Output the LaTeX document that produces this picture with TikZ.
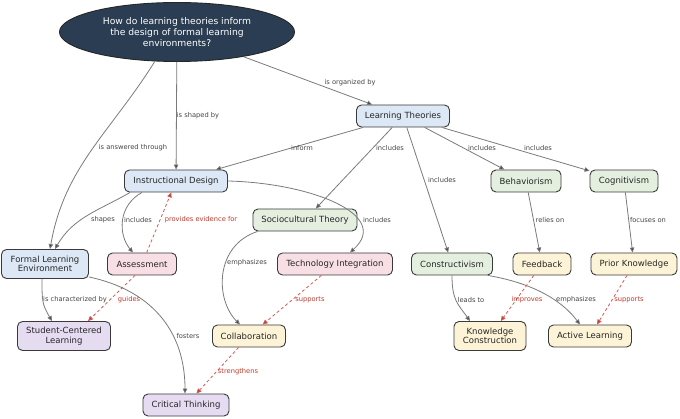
\documentclass[tikz,border=0pt]{standalone}
\usepackage{fontspec}
\setmainfont{DejaVu Sans}
\usetikzlibrary{arrows.meta,shapes.geometric}
\definecolor{cblue}{HTML}{DCE8F5}
\definecolor{cgreen}{HTML}{E4EFE0}
\definecolor{cpink}{HTML}{F7DFE5}
\definecolor{cyellow}{HTML}{FDF3D6}
\definecolor{cpurple}{HTML}{E6DCF1}
\definecolor{qfill}{HTML}{2A3D52}
\definecolor{bordc}{HTML}{3A3A3A}
\definecolor{edgec}{HTML}{7A7A7A}
\definecolor{lblc}{HTML}{444444}
\definecolor{redc}{HTML}{D45A55}
\definecolor{redlc}{HTML}{C0392B}
\begin{document}
\begin{tikzpicture}[x=1pt,y=1pt,
  box/.style={rectangle, rounded corners=5pt, draw=bordc, line width=0.9pt, minimum height=22pt, inner xsep=3pt, inner ysep=2pt, font=\fontsize{8.5}{9.5}\selectfont, text=black!85, align=center},
  qnode/.style={ellipse, fill=qfill, draw=black!85, line width=0.9pt, minimum width=235pt, minimum height=59pt, inner sep=0pt, text=white, font=\fontsize{9.2}{11}\selectfont, align=center},
  edge/.style={draw=edgec, line width=0.8pt, -{Triangle[length=5pt,width=4.5pt,fill=black!75]}},
  dedge/.style={draw=redc, line width=0.8pt, dash pattern=on 3pt off 2.5pt, -{Triangle[length=5pt,width=4.5pt,fill=redlc]}},
  lbl/.style={font=\fontsize{6.7}{8}\selectfont, text=lblc, inner sep=0.5pt},
  rlbl/.style={lbl, text=redlc},
]
\useasboundingbox (0,0) rectangle (680,-419);

\node[qnode] (q) at (177,-32) {How do learning theories inform\\the design of formal learning\\environments?};
\node[box, fill=cblue, minimum width=93pt] (lt) at (403,-116) {Learning Theories};
\node[box, fill=cblue, minimum width=103pt] (id) at (176,-181) {Instructional Design};
\node[box, fill=cgreen, minimum width=70pt] (beh) at (526,-181) {Behaviorism};
\node[box, fill=cgreen, minimum width=68pt] (cog) at (624,-181) {Cognitivism};
\node[box, fill=cgreen, minimum width=104pt] (sct) at (305,-220) {Sociocultural Theory};
\node[box, fill=cblue, minimum width=87pt, minimum height=29pt] (fle) at (45,-264) {Formal Learning\\Environment};
\node[box, fill=cpink, minimum width=69pt] (as) at (142,-264) {Assessment};
\node[box, fill=cpink, minimum width=115pt] (ti) at (335,-264) {Technology Integration};
\node[box, fill=cgreen, minimum width=81pt] (con) at (452,-264) {Constructivism};
\node[box, fill=cyellow, minimum width=58pt] (fb) at (542,-264) {Feedback};
\node[box, fill=cyellow, minimum width=86pt] (pk) at (634,-264) {Prior Knowledge};
\node[box, fill=cpurple, minimum width=93pt, minimum height=29pt] (scl) at (64,-336) {Student-Centered\\Learning};
\node[box, fill=cyellow, minimum width=73pt] (col) at (249,-336) {Collaboration};
\node[box, fill=cyellow, minimum width=72pt, minimum height=29pt] (kc) at (490,-336) {Knowledge\\Construction};
\node[box, fill=cyellow, minimum width=83pt] (al) at (590,-336) {Active Learning};
\node[box, fill=cpurple, minimum width=86pt] (ct) at (186,-405) {Critical Thinking};

% connectors
\draw[edge] (q) -- (lt);
\draw[edge] (q) -- (id);
\draw[edge] (q.233) to[out=238,in=80] ([xshift=5pt]fle.north);
\draw[edge] (lt) -- (id);
\draw[edge] (lt) -- (sct);
\draw[edge] (lt) -- (con);
\draw[edge] (lt) -- (beh);
\draw[edge] (lt) -- (cog);
\draw[edge] ([xshift=6pt]id.south west) to[out=210,in=60] ([xshift=10pt]fle.north);
\draw[edge] ([xshift=-34pt]id.south) .. controls +(-24,-13) and +(-15,18) .. ([xshift=-9pt]as.north);
\draw[dedge] (as) -- (id);
\draw[edge] (id.east) .. controls +(82,-2) and +(42,38) .. ([xshift=15pt]ti.north);
\draw[edge] ([xshift=5pt]sct.south west) .. controls +(-43,-14) and +(-25,25) .. ([xshift=-9pt]col.north);
\draw[dedge] (ti) -- (col);
\draw[edge] ([xshift=-3pt]fle.south) .. controls +(0,-22) and +(-10,17) .. ([xshift=-12pt]scl.north);
\draw[dedge] ([xshift=-7pt]as.south) -- ([xshift=24pt]scl.north);
\draw[edge] ([yshift=2pt]fle.south east) .. controls +(61,-13) and +(0,64) .. ([xshift=-1pt]ct.north);
\draw[dedge] (col) -- (ct);
\draw[edge] (beh) -- (fb);
\draw[edge] (cog) -- (pk);
\draw[edge] (con.south) .. controls +(0,-25) and +(-12,17) .. ([xshift=-20pt]kc.north);
\draw[edge] ([xshift=-5pt]con.south east) .. controls +(52,-9) and +(-15,20) .. ([xshift=-10pt]al.north);
\draw[dedge] (fb) -- (kc);
\draw[dedge] (pk) -- (al);

% labels
\node[lbl] (l1) at (350,-83) {is organized by};
\node[lbl] (l2) at (198,-116) {is shaped by};
\node[lbl] (l3) at (133,-148) {is answered through};
\node[lbl] (l4) at (302,-148) {inform};
\node[lbl] (l5) at (390,-148) {includes};
\node[lbl] (l6) at (482,-148) {includes};
\node[lbl] (l7) at (538,-148) {includes};
\node[lbl] (l8) at (442,-180) {includes};
\node[lbl] (l9) at (103,-220) {shapes};
\node[lbl] (l10) at (138,-220) {includes};
\node[rlbl] (l11) at (201,-220) {provides evidence for};
\node[lbl] (l12) at (377,-220) {includes};
\node[lbl] (l13) at (550,-220) {relies on};
\node[lbl] (l14) at (648,-220) {focuses on};
\node[lbl] (l15) at (247,-263) {emphasizes};
\node[lbl] (l16) at (75,-300) {is characterized by};
\node[rlbl] (l17) at (129,-300) {guides};
\node[rlbl] (l18) at (310,-300) {supports};
\node[lbl] (l19) at (471,-300) {leads to};
\node[rlbl] (l20) at (527,-300) {improves};
\node[lbl] (l21) at (576,-300) {emphasizes};
\node[rlbl] (l22) at (629,-300) {supports};
\node[lbl] (l23) at (188,-336) {fosters};
\node[rlbl] (l24) at (238,-372) {strengthens};
\end{tikzpicture}
\end{document}
